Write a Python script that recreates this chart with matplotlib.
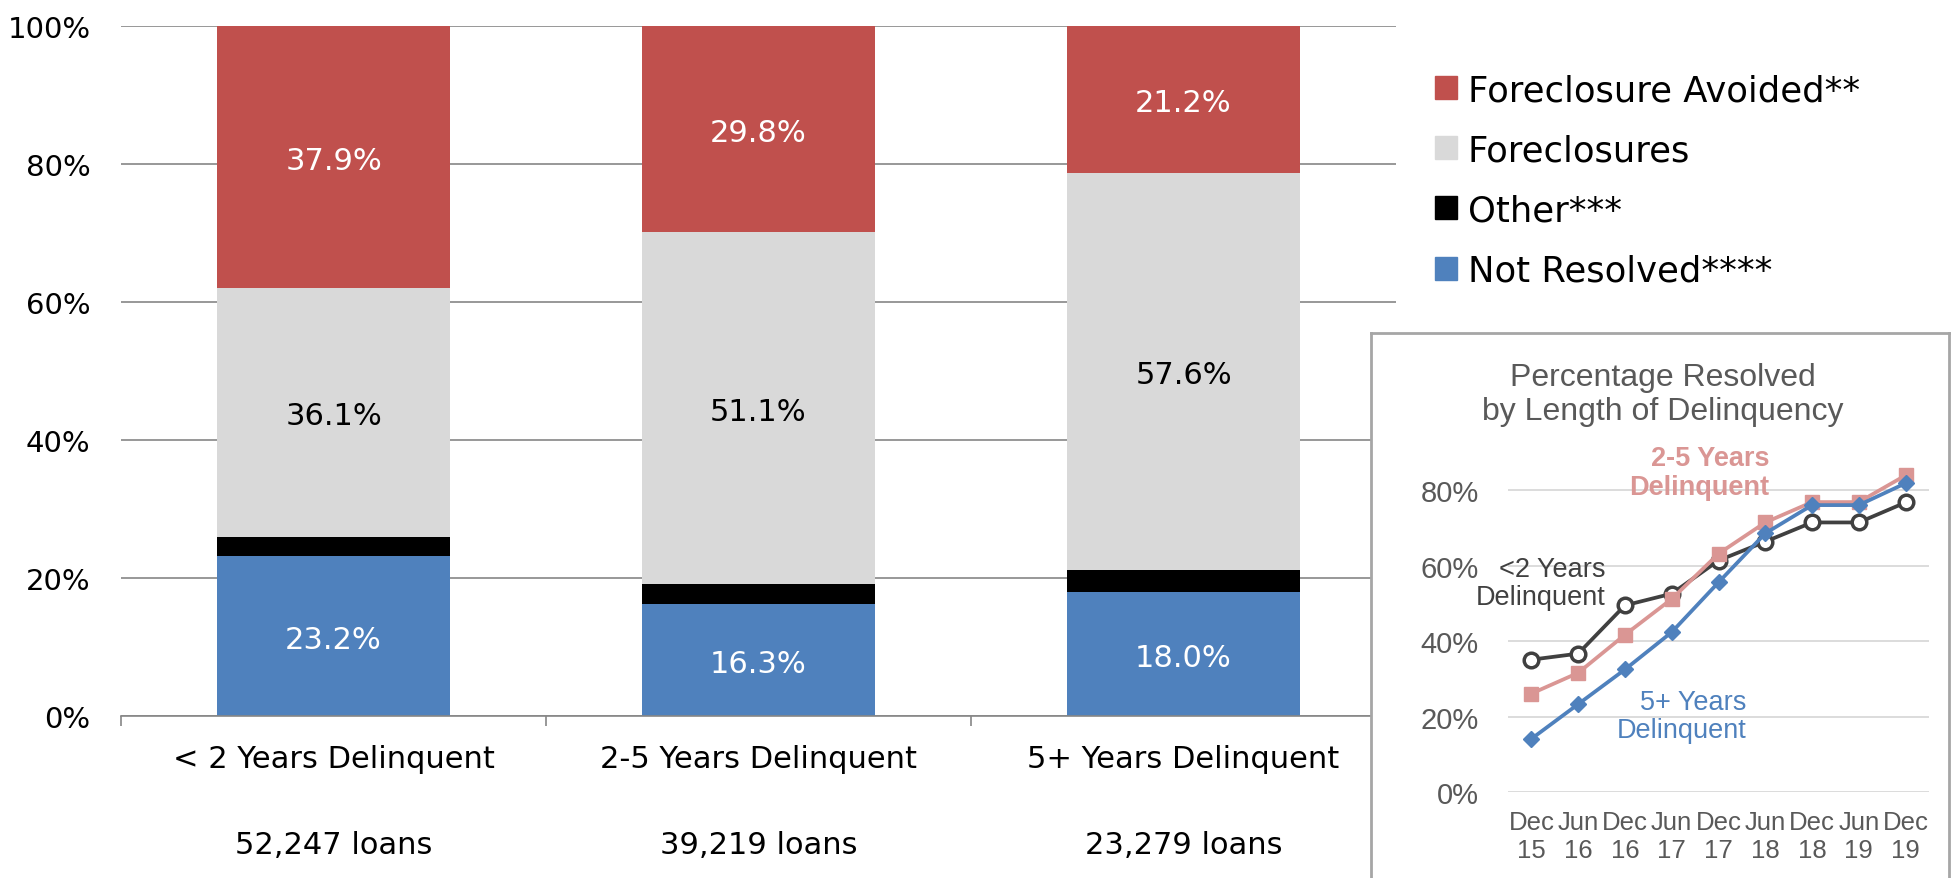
import numpy as np
import matplotlib.pyplot as plt
from matplotlib.patches import Patch
import matplotlib.transforms as mtransforms

# main stacked bars (percent of loans)
categories = ['< 2 Years Delinquent', '2-5 Years Delinquent', '5+ Years Delinquent']
loan_counts = ['52,247 loans', '39,219 loans', '23,279 loans']
not_resolved = [23.2, 16.3, 18.0]
other = [2.8, 2.8, 3.2]
foreclosures = [36.1, 51.1, 57.6]
avoided = [37.9, 29.8, 21.2]

# inset lines: share resolved
periods = ['Dec\n15', 'Jun\n16', 'Dec\n16', 'Jun\n17', 'Dec\n17', 'Jun\n18', 'Dec\n18', 'Jun\n19', 'Dec\n19']
lt2 = [0.351, 0.367, 0.495, 0.526, 0.614, 0.664, 0.715, 0.715, 0.768]
y2to5 = [0.261, 0.316, 0.417, 0.512, 0.632, 0.715, 0.769, 0.769, 0.840]
y5plus = [0.141, 0.233, 0.325, 0.424, 0.556, 0.686, 0.761, 0.761, 0.819]

RED = '#C0504D'
GRAY = '#D9D9D9'
BLUE = '#4F81BD'
PINK = '#DA9694'
DARK = '#404040'
GRID = '#868686'

W, H = 1955, 879
fig = plt.figure(figsize=(W / 100, H / 100), dpi=100)

ax = fig.add_axes([121 / W, 1 - 717 / H, (1396 - 121) / W, (717 - 27.4) / H])
x = np.arange(len(categories))
bw = 0.55
segs = [(not_resolved, BLUE, 'white'), (other, 'black', None),
        (foreclosures, GRAY, 'black'), (avoided, RED, 'white')]
bottom = np.zeros(len(categories))
for vals, col, tcol in segs:
    vals = np.array(vals)
    ax.bar(x, vals, bw, bottom=bottom, color=col, zorder=2)
    if tcol:
        for xi, b, v in zip(x, bottom, vals):
            ax.text(xi, b + v / 2 - 0.5, f'{v:.1f}%', ha='center', va='center',
                    fontsize=22, color=tcol, zorder=3)
    bottom += vals

ax.set_xlim(-0.5, 2.5)
ax.set_ylim(0, 100)
ax.set_yticks(np.arange(0, 101, 20))
ax.set_yticklabels([f'{v}%' for v in range(0, 101, 20)])
ax.yaxis.grid(True, color=GRID, lw=1.2)
ax.set_axisbelow(True)
for s in ['top', 'right', 'left']:
    ax.spines[s].set_visible(False)
ax.spines['bottom'].set_color(GRID)
ax.spines['bottom'].set_linewidth(1.2)
ax.tick_params(axis='y', length=0, pad=22, labelsize=21)
ax.set_xticks(x)
ax.set_xticklabels(categories)
ax.tick_params(axis='x', length=0, pad=20, labelsize=22)
ax.set_xticks(np.arange(-0.5, 3, 1), minor=True)
ax.tick_params(axis='x', which='minor', length=7, color=GRID, width=1.2)
trans = mtransforms.blended_transform_factory(ax.transData, ax.transAxes)
for xi, lc in zip(x, loan_counts):
    ax.text(xi, -0.187, lc, transform=trans, ha='center', va='center', fontsize=22)

handles = [Patch(color=RED), Patch(color=GRAY), Patch(color='black'), Patch(color=BLUE)]
labels = ['Foreclosure Avoided**', 'Foreclosures', 'Other***', 'Not Resolved****']
fig.legend(handles, labels, loc='upper left', bbox_to_anchor=(1435 / W, 1 - 74 / H),
           frameon=False, fontsize=25.5, handlelength=0.62, handleheight=0.62,
           handletextpad=0.31, labelspacing=0.74, borderpad=0, borderaxespad=0)

# inset frame
box = fig.add_axes([1371 / W, -0.1, (1949 - 1371) / W, 1 - 334 / H + 0.1], zorder=3)
box.set_xticks([])
box.set_yticks([])
for s in box.spines.values():
    s.set_color('#A6A6A6')
    s.set_linewidth(2)

ins = fig.add_axes([1508 / W, 1 - 793 / H, 421 / W, 0.9 * 377 / H], zorder=4)
ins.patch.set_alpha(0)
t = np.arange(len(periods))
ins.plot(t, lt2, color=DARK, lw=2.7, marker='o', ms=10.5, mfc='white', mec=DARK, mew=2.5, zorder=3)
ins.plot(t, y2to5, color=PINK, lw=2.7, marker='s', ms=9.5, mfc=PINK, mec=PINK, zorder=4)
ins.plot(t, y5plus, color=BLUE, lw=2.7, marker='D', ms=8.5, mfc=BLUE, mec=BLUE, zorder=5)
ins.set_xlim(-0.5, 8.5)
ins.set_ylim(0, 0.9)
ins.set_yticks(np.arange(0, 0.81, 0.2))
ins.set_yticklabels([f'{int(round(v * 100))}%' for v in np.arange(0, 0.81, 0.2)])
ins.set_xticks(t)
ins.set_xticklabels(periods, linespacing=1.2)
ins.yaxis.grid(True, color=GRAY, lw=1.3)
ins.set_axisbelow(True)
for s in ins.spines.values():
    s.set_visible(False)
ins.tick_params(axis='y', length=0, pad=21, labelsize=21, labelcolor='#595959')
ins.tick_params(axis='x', length=0, pad=13, labelsize=18.5, labelcolor='#595959')
for lab in ins.get_xticklabels() + ins.get_yticklabels():
    lab.set_family('Liberation Sans')

fig.text(1663 / W, 1 - 395 / H, 'Percentage Resolved\nby Length of Delinquency',
         ha='center', va='center', fontsize=23, color='#595959',
         family='Liberation Sans', linespacing=1.2, zorder=5)
ins.text(5.09, 0.848, '2-5 Years\nDelinquent', ha='right', va='center', fontsize=19.5,
         color=PINK, fontweight='bold', family='Liberation Sans', linespacing=1.12, zorder=6)
ins.text(1.58, 0.554, '<2 Years\nDelinquent', ha='right', va='center', fontsize=19.5,
         color=DARK, family='Liberation Sans', linespacing=1.12, zorder=6)
ins.text(4.59, 0.201, '5+ Years\nDelinquent', ha='right', va='center', fontsize=19.5,
         color=BLUE, family='Liberation Sans', linespacing=1.12, zorder=6)

fig.savefig('out.png', dpi=100)
